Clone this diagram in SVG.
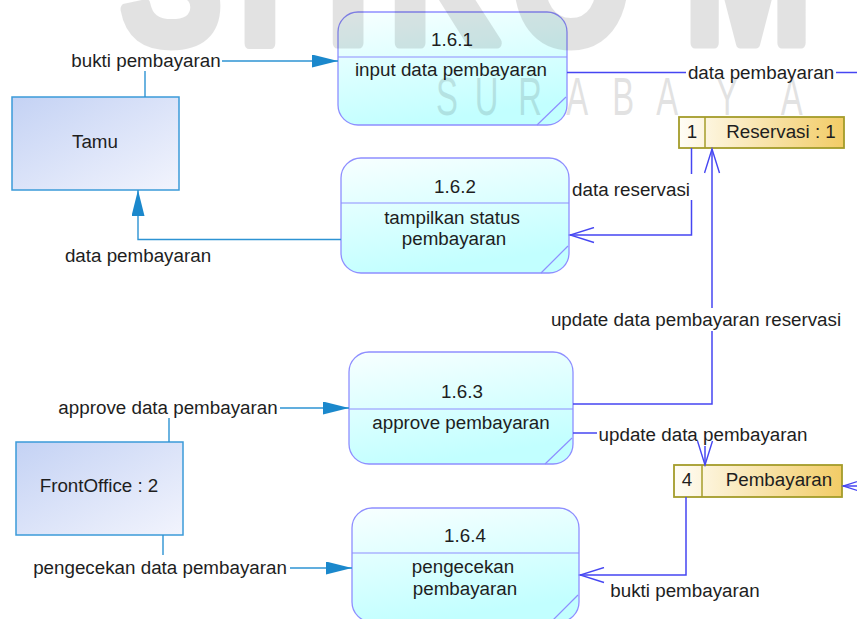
<svg xmlns="http://www.w3.org/2000/svg" width="857" height="619" viewBox="0 0 857 619">
  <style>
    text { font-family: "Liberation Sans", Arial, sans-serif; font-size: 18.8px; fill: #1e1e1e; }
    .mid { text-anchor: middle; }
    .end { text-anchor: end; }
    .proc { fill: url(#procFill); stroke: #8e8eff; stroke-width: 1.3; }
    .procline { stroke: #8e8eff; stroke-width: 1.2; fill: none; }
    .ent { fill: url(#entFill); stroke: #3b9bd9; stroke-width: 1.5; }
    .store { fill: url(#storeFill); stroke: #a49c2a; stroke-width: 1.8; }
    .storeline { stroke: #a49c2a; stroke-width: 1.5; }
    .ef { fill: none; stroke: #2d93d3; stroke-width: 1.4; }
    .pf { fill: none; stroke: #4646f2; stroke-width: 1.5; }
    .wmBig { font-size: 190px; font-weight: bold; fill: #000; stroke: #000; stroke-width: 11px; stroke-linejoin: round; text-anchor: middle; }
    .wmSmall { font-size: 53px; font-weight: 300; fill: #000; text-anchor: middle; }
  </style>
  <defs>
    <linearGradient id="procFill" x1="0" y1="0" x2="0.3" y2="1">
      <stop offset="0" stop-color="#f8ffff"/>
      <stop offset="1" stop-color="#c2ffff"/>
    </linearGradient>
    <linearGradient id="entFill" x1="0" y1="0" x2="1" y2="1">
      <stop offset="0" stop-color="#c4d2f4"/>
      <stop offset="1" stop-color="#f2f4fd"/>
    </linearGradient>
    <linearGradient id="storeFill" x1="0" y1="0" x2="1" y2="0">
      <stop offset="0" stop-color="#fffdf6"/>
      <stop offset="1" stop-color="#f2cc66"/>
    </linearGradient>
    <!-- solid head for external-entity flows -->
    <marker id="solid" markerUnits="userSpaceOnUse" viewBox="0 0 26 13" markerWidth="26" markerHeight="13" refX="26" refY="6.5" orient="auto">
      <path d="M0,0 L26,6.5 L0,13 Z" fill="#1b88cc"/>
    </marker>
    <!-- open head for process/store flows -->
    <marker id="open" markerUnits="userSpaceOnUse" viewBox="-1 -1 27 17" markerWidth="27" markerHeight="17" refX="24" refY="7.5" orient="auto">
      <path d="M0,0 L24,7.5 L0,15" fill="none" stroke="#4646f2" stroke-width="1.4"/>
    </marker>
  </defs>

  <!-- external entities -->
  <g id="tamu">
    <rect class="ent" x="12" y="97" width="167" height="93"/>
    <text class="mid" x="95" y="148">Tamu</text>
  </g>
  <g id="frontoffice">
    <rect class="ent" x="16" y="442" width="167" height="93"/>
    <text class="mid" x="99" y="492">FrontOffice : 2</text>
  </g>

  <!-- processes -->
  <g id="p161">
    <rect class="proc" x="338" y="12" width="229" height="113" rx="20"/>
    <line class="procline" x1="338" y1="57" x2="567" y2="57"/>
    <line class="procline" x1="537" y1="125" x2="566" y2="97"/>
    <text class="mid" x="452" y="46">1.6.1</text>
    <text class="mid" x="451" y="76">input data pembayaran</text>
  </g>
  <g id="p162">
    <rect class="proc" x="341" y="158" width="228" height="115" rx="20"/>
    <line class="procline" x1="341" y1="203" x2="569" y2="203"/>
    <line class="procline" x1="541" y1="273" x2="568" y2="246"/>
    <text class="mid" x="455" y="193">1.6.2</text>
    <text class="mid" x="452" y="224">tampilkan status</text>
    <text class="mid" x="454" y="245">pembayaran</text>
  </g>
  <g id="p163">
    <rect class="proc" x="349" y="352" width="224" height="112" rx="20"/>
    <line class="procline" x1="349" y1="409" x2="573" y2="409"/>
    <line class="procline" x1="545" y1="464" x2="572" y2="438"/>
    <text class="mid" x="462" y="398">1.6.3</text>
    <text class="mid" x="461" y="429">approve pembayaran</text>
  </g>
  <g id="p164">
    <rect class="proc" x="352" y="508" width="227" height="114" rx="20"/>
    <line class="procline" x1="352" y1="553" x2="579" y2="553"/>
    <line class="procline" x1="551" y1="622" x2="578" y2="595"/>
    <text class="mid" x="465" y="542">1.6.4</text>
    <text class="mid" x="463" y="573">pengecekan</text>
    <text class="mid" x="465" y="595">pembayaran</text>
  </g>

  <!-- data stores -->
  <g id="reservasi">
    <rect class="store" x="679" y="117" width="165" height="31"/>
    <line class="storeline" x1="705" y1="117" x2="705" y2="148"/>
    <text class="mid" x="692" y="138">1</text>
    <text class="mid" x="781" y="138">Reservasi : 1</text>
  </g>
  <g id="pembayaran">
    <rect class="store" x="674" y="465" width="168" height="32"/>
    <line class="storeline" x1="702" y1="465" x2="702" y2="497"/>
    <text class="mid" x="687" y="486">4</text>
    <text class="mid" x="779" y="486">Pembayaran</text>
  </g>

  <!-- data flows -->
  <g id="connectors">
    <!-- Tamu -> 1.6.1 -->
    <path class="ef" d="M145,97 V71"/>
    <path class="ef" d="M222,61 H338" marker-end="url(#solid)"/>
    <text class="mid" x="146" y="67">bukti pembayaran</text>

    <!-- 1.6.2 -> Tamu -->
    <path class="ef" d="M341,239.5 H138 V190" marker-end="url(#solid)"/>
    <text class="mid" x="138" y="262">data pembayaran</text>

    <!-- FrontOffice -> 1.6.3 -->
    <path class="ef" d="M169,442 V418"/>
    <path class="ef" d="M280,408 H349" marker-end="url(#solid)"/>
    <text class="mid" x="168" y="414">approve data pembayaran</text>

    <!-- FrontOffice -> 1.6.4 -->
    <path class="ef" d="M163,535 V555"/>
    <path class="ef" d="M290,568 H352" marker-end="url(#solid)"/>
    <text class="mid" x="160" y="574">pengecekan data pembayaran</text>

    <!-- 1.6.1 -> Reservasi (continues off the right edge) -->
    <path class="pf" d="M567,72.5 H686"/>
    <path class="pf" d="M836,72.5 H857"/>
    <text class="mid" x="761" y="79">data pembayaran</text>

    <!-- Reservasi -> 1.6.2 -->
    <path class="pf" d="M691.5,148 V174"/>
    <path class="pf" d="M691.5,200 V235 H570" marker-end="url(#open)"/>
    <text class="end" x="690" y="196">data reservasi</text>

    <!-- 1.6.3 -> Reservasi -->
    <path class="pf" d="M573,404 H712 V331"/>
    <path class="pf" d="M712,308 V149" marker-end="url(#open)"/>
    <text class="mid" x="696" y="326">update data pembayaran reservasi</text>

    <!-- 1.6.3 -> Pembayaran -->
    <path class="pf" d="M573,433 H597"/>
    <path class="pf" d="M705,446 V465" marker-end="url(#open)"/>
    <text class="mid" x="703" y="441">update data pembayaran</text>

    <!-- Pembayaran -> 1.6.4 -->
    <path class="pf" d="M686,497 V575 H580" marker-end="url(#open)"/>
    <text class="mid" x="685" y="597">bukti pembayaran</text>

    <!-- incoming flow to Pembayaran from the right -->
    <path class="pf" d="M857,486 H843" marker-end="url(#open)"/>
  </g>

  <!-- faint logo lettering over the sheet -->
  <g opacity="0.11">
    <g transform="scale(0.8,1)">
      <text class="wmBig" x="214" y="43">S</text>
      <text class="wmBig" x="325" y="43">T</text>
      <text class="wmBig" x="435" y="43">I</text>
      <text class="wmBig" x="555" y="43">K</text>
      <text class="wmBig" x="714" y="43">O</text>
      <text class="wmBig" x="935" y="43">M</text>
    </g>
    <g transform="scale(0.62,1)">
      <text class="wmSmall" x="721" y="115">S</text>
      <text class="wmSmall" x="785" y="115">U</text>
      <text class="wmSmall" x="855" y="115">R</text>
      <text class="wmSmall" x="931" y="115">A</text>
      <text class="wmSmall" x="1005" y="115">B</text>
      <text class="wmSmall" x="1076" y="115">A</text>
      <text class="wmSmall" x="1173" y="115">Y</text>
      <text class="wmSmall" x="1277" y="115">A</text>
    </g>
  </g>
</svg>
